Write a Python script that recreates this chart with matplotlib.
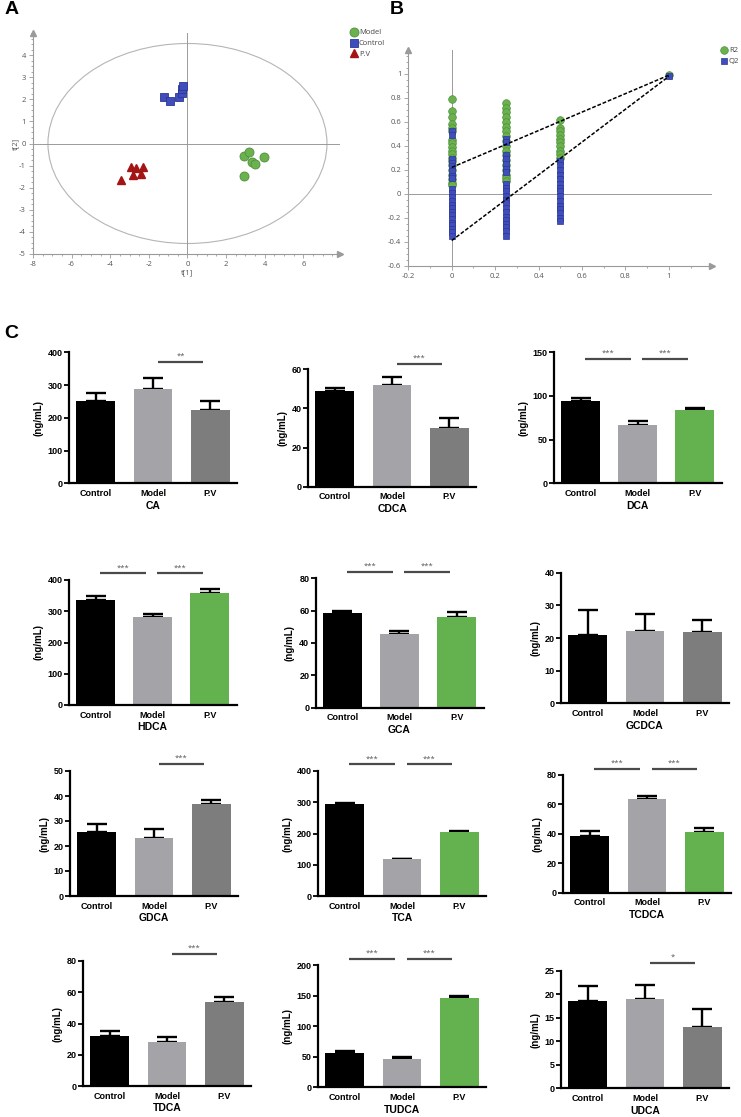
import numpy as np
import matplotlib.pyplot as plt
from matplotlib.patches import Ellipse
from matplotlib.ticker import MultipleLocator

W, H = 741, 1117

# --- A: PCA scores t[1], t[2]
model_t1 = [2.93, 3.17, 3.33, 3.49, 3.97, 2.92]
model_t2 = [-0.55, -0.40, -0.82, -0.91, -0.61, -1.46]
control_t1 = [-1.20, -0.89, -0.44, -0.30, -0.26, -0.24]
control_t2 = [2.12, 1.92, 2.09, 2.27, 2.45, 2.60]
pv_t1 = [-2.92, -2.68, -2.28, -3.44, -2.84, -2.42]
pv_t2 = [-1.05, -1.10, -1.05, -1.65, -1.43, -1.38]
ellipse_w, ellipse_h = 14.45, 9.05

# --- B: permutation test (R2 / Q2)
r2_x0 = [0.79, 0.69, 0.64, 0.58, 0.55, 0.52, 0.45, 0.42, 0.39, 0.36, 0.33,
         0.30, 0.27, 0.24, 0.20, 0.16, 0.12, 0.09, 0.07]
q2_x0 = [0.52, 0.49, 0.29, 0.26, 0.23, 0.19, 0.15, 0.13, 0.04, 0.01, -0.03,
         -0.06, -0.09, -0.12, -0.15, -0.18, -0.21, -0.24, -0.26, -0.29, -0.32, -0.35]
r2_x25 = [0.76, 0.72, 0.68, 0.64, 0.60, 0.56, 0.52, 0.48, 0.44, 0.40, 0.36,
          0.32, 0.28, 0.24, 0.20, 0.16, 0.13, 0.11]
q2_x25 = [0.46, 0.43, 0.32, 0.29, 0.25, 0.21, 0.18, 0.08, 0.05, 0.02, -0.02,
          -0.05, -0.08, -0.12, -0.15, -0.19, -0.22, -0.25, -0.28, -0.31, -0.35]
r2_x50 = [0.62, 0.55, 0.52, 0.49, 0.46, 0.43, 0.40, 0.36, 0.33, 0.30]
q2_x50 = [0.27, 0.24, 0.20, 0.16, 0.12, 0.08, 0.05, 0.02, -0.02, -0.06, -0.10,
          -0.13, -0.16, -0.20, -0.23]
r2_orig, q2_orig = 0.99, 0.98
r2_icpt, q2_icpt = 0.22, -0.39

# --- C: bile acids (ng/mL), mean and upper error
groups = ['Control', 'Model', 'P.V']
CA_mean, CA_err = [250, 288, 225], [26, 35, 26]
CDCA_mean, CDCA_err = [48.8, 52.2, 29.8], [1.8, 4.0, 5.5]
DCA_mean, DCA_err = [94, 66.5, 83.5], [3.3, 5.0, 3.0]
HDCA_mean, HDCA_err = [337, 281, 357], [12, 11, 13]
GCA_mean, GCA_err = [58.5, 45.3, 56.0], [1.3, 2.0, 3.0]
GCDCA_mean, GCDCA_err = [21.0, 22.0, 21.8], [7.7, 5.4, 3.7]
GDCA_mean, GDCA_err = [25.8, 23.3, 36.8], [3.2, 3.4, 1.7]
TCA_mean, TCA_err = [295, 118, 205], [3, 2, 3]
TCDCA_mean, TCDCA_err = [38.5, 63.5, 41.0], [3.5, 2.5, 3.0]
TDCA_mean, TDCA_err = [32.3, 28.0, 53.5], [3.2, 3.5, 3.5]
TUDCA_mean, TUDCA_err = [57, 47, 147], [2.0, 2.0, 2.5]
UDCA_mean, UDCA_err = [18.6, 19.0, 13.1], [3.1, 3.0, 3.7]

acids = ['CA', 'CDCA', 'DCA', 'HDCA', 'GCA', 'GCDCA',
         'GDCA', 'TCA', 'TCDCA', 'TDCA', 'TUDCA', 'UDCA']
means = [CA_mean, CDCA_mean, DCA_mean, HDCA_mean, GCA_mean, GCDCA_mean,
         GDCA_mean, TCA_mean, TCDCA_mean, TDCA_mean, TUDCA_mean, UDCA_mean]
errs = [CA_err, CDCA_err, DCA_err, HDCA_err, GCA_err, GCDCA_err,
        GDCA_err, TCA_err, TCDCA_err, TDCA_err, TUDCA_err, UDCA_err]
y_max = [400, 60, 150, 400, 80, 40, 50, 400, 80, 80, 200, 25]
y_step = [100, 20, 50, 100, 20, 10, 10, 100, 20, 20, 50, 5]
pv_green = [False, False, True, True, True, False,
            False, True, True, False, True, False]
sig_pairs = [[(1, 2, '**')], [(1, 2, '***')], [(0, 1, '***'), (1, 2, '***')],
             [(0, 1, '***'), (1, 2, '***')], [(0, 1, '***'), (1, 2, '***')], [],
             [(1, 2, '***')], [(0, 1, '***'), (1, 2, '***')], [(0, 1, '***'), (1, 2, '***')],
             [(1, 2, '***')], [(0, 1, '***'), (1, 2, '***')], [(1, 2, '*')]]
sig_level = [370, 62.7, 142, 421, 83.7, 0, 52.7, 421, 84.3, 84.3, 210, 26.6]

# axes boxes in pixels: left, top (y max), bottom (y = 0)
boxes = [(69, 352.3, 483.3), (308, 369.3, 486.7), (553.7, 352.3, 483.3),
         (68.7, 580, 705), (315.5, 578.3, 707.7), (561, 572.7, 703.3),
         (70, 771, 896), (318, 771, 896), (563, 775, 892.7),
         (83, 961, 1086), (318, 965.3, 1087.3), (561, 970.7, 1088.3)]
box_w = 168

simca_font = ['Open Sans', 'DejaVu Sans']
prism_font = ['Liberation Sans Narrow', 'Liberation Sans', 'DejaVu Sans']
plt.rcParams['font.family'] = simca_font

fig = plt.figure(figsize=(W / 100, H / 100), dpi=100)


def px_axes(left, top, right, bottom):
    return fig.add_axes([left / W, 1 - bottom / H, (right - left) / W, (bottom - top) / H])


grey = '#9a9a9a'
green, green_e = '#6bb24f', '#4e8f3a'
blue, blue_e = '#3f4dbd', '#2c3794'
red = '#a31515'


def simca_style(ax, xt, yt, xminor, yminor):
    for s in ['top', 'right']:
        ax.spines[s].set_visible(False)
    for s in ['left', 'bottom']:
        ax.spines[s].set_color(grey)
        ax.spines[s].set_linewidth(0.8)
    ax.set_xticks(xt, labels=[f'{v:g}' for v in np.round(xt, 2)], fontsize=5.5, color='#555555')
    ax.set_yticks(yt, labels=[f'{v:g}' for v in np.round(yt, 2)], fontsize=5.5, color='#555555')
    ax.xaxis.set_minor_locator(MultipleLocator(xminor))
    ax.yaxis.set_minor_locator(MultipleLocator(yminor))
    ax.tick_params(which='both', colors=grey, labelcolor='#555555', width=0.6)
    ax.tick_params(which='major', length=3, pad=2)
    ax.tick_params(which='minor', length=1.5)
    ax.plot(1, 0, '>', transform=ax.transAxes, clip_on=False, color=grey, ms=4)
    ax.plot(0, 1, '^', transform=ax.transAxes, clip_on=False, color=grey, ms=4)


# ---------------- A
axA = px_axes(33, 33, 340, 254)
axA.set_xlim(-8, 7.9)
axA.set_ylim(-5, 5)
simca_style(axA, np.arange(-8, 7, 2), np.arange(-5, 5, 1), 0.5, 0.25)
axA.axhline(0, color=grey, lw=0.7)
axA.axvline(0, color=grey, lw=0.7)
axA.add_patch(Ellipse((0, 0), ellipse_w, ellipse_h, fill=False, ec='#b5b5b5', lw=0.8))
hm, = axA.plot(model_t1, model_t2, 'o', ms=6.5, color=green, mec=green_e, mew=0.6, ls='none')
hc, = axA.plot(control_t1, control_t2, 's', ms=5.5, color=blue, mec=blue_e, mew=0.6, ls='none')
hp, = axA.plot(pv_t1, pv_t2, '^', ms=5.5, color=red, mec=red, ls='none')
axA.set_xlabel('t[1]', fontsize=5.5, color='#555555', labelpad=1)
axA.set_ylabel('t[2]', fontsize=5.5, color='#555555', labelpad=0)
fig.legend([hm, hc, hp], ['Model', 'Control', 'P.V'], loc='upper left',
           bbox_to_anchor=(346 / W, 1 - 26 / H), frameon=False, fontsize=5.5,
           labelcolor='#444444', handletextpad=0.1, labelspacing=0.45,
           handlelength=1.2, borderaxespad=0)

# ---------------- B
axB = px_axes(408.3, 50, 711.7, 265.7)
axB.set_xlim(-0.2, 1.197)
axB.set_ylim(-0.6, 1.2)
simca_style(axB, np.arange(-0.2, 1.01, 0.2), np.arange(-0.6, 1.01, 0.2), 0.1, 0.05)
axB.axhline(0, color=grey, lw=0.7)
axB.axvline(0, color=grey, lw=0.7)
for xpos, r2, q2 in [(0, r2_x0, q2_x0), (0.25, r2_x25, q2_x25), (0.5, r2_x50, q2_x50)]:
    axB.plot([xpos] * len(r2), r2, 'o', ms=5.5, color=green, mec=green_e, mew=0.5, ls='none')
    axB.plot([xpos] * len(q2), q2, 's', ms=4.8, color=blue, mec=blue_e, mew=0.5, ls='none')
hr, = axB.plot([1], [r2_orig], 'o', ms=5.5, color=green, mec=green_e, mew=0.5, ls='none')
hq, = axB.plot([1], [q2_orig], 's', ms=4.8, color=blue, mec=blue_e, mew=0.5, ls='none')
axB.plot([0, 1], [r2_icpt, r2_orig], color='black', lw=1.1, ls=(0, (2.5, 1.2)))
axB.plot([0, 1], [q2_icpt, q2_orig], color='black', lw=1.1, ls=(0, (2.5, 1.2)))
fig.legend([hr, hq], ['R2', 'Q2'], loc='upper left',
           bbox_to_anchor=(716 / W, 1 - 44 / H), frameon=False, fontsize=5.5,
           labelcolor='#444444', handletextpad=0.1, labelspacing=0.45,
           handlelength=1.2, borderaxespad=0)

# ---------------- C
for k, name in enumerate(acids):
    left, top, bottom = boxes[k]
    ax = px_axes(left, top, left + box_w, bottom)
    x = np.arange(3)
    colors = ['#000000', '#a3a3a8', '#63b14f' if pv_green[k] else '#7d7d7d']
    ax.bar(x, means[k], width=0.68, color=colors, zorder=2)
    ax.errorbar(x, means[k], yerr=[np.zeros(3), errs[k]], fmt='none', ecolor='black',
                elinewidth=1.7, capsize=7, capthick=1.7, zorder=1)
    ax.set_xlim(-0.47, 2.47)
    ax.set_ylim(0, y_max[k])
    for s in ['top', 'right']:
        ax.spines[s].set_visible(False)
    for s in ['left', 'bottom']:
        ax.spines[s].set_linewidth(1.6)
    yt = np.arange(0, y_max[k] + y_step[k] / 2, y_step[k])
    ax.set_yticks(yt, labels=[f'{v:g}' for v in yt], fontfamily=prism_font,
                  fontweight='bold', fontsize=6.5)
    ax.set_xticks(x, labels=groups, fontfamily=prism_font, fontweight='bold', fontsize=6.5)
    ax.tick_params(axis='x', length=0, pad=4)
    ax.tick_params(axis='y', length=3.5, width=1.3, pad=1)
    ax.set_ylabel('(ng/mL)', fontfamily=prism_font, fontweight='bold', fontsize=7, labelpad=3)
    ax.set_xlabel(name, fontfamily=prism_font, fontweight='bold', fontsize=7.5, labelpad=2)
    for i, j, stars in sig_pairs[k]:
        ax.plot([i + 0.08, j - 0.12], [sig_level[k]] * 2, color='#4a4a4a', lw=1.6,
                clip_on=False, solid_capstyle='butt')
        ax.annotate(stars, xy=((i + j) / 2 - 0.02, sig_level[k]), xytext=(0, 1.5),
                    textcoords='offset points', ha='center', va='bottom',
                    fontsize=5.5, color='#555555', annotation_clip=False)

# panel letters
for lab, xp, yp in [('A', 5, 14), ('B', 390, 14), ('C', 4, 338)]:
    fig.text(xp / W, 1 - yp / H, lab, fontsize=14, fontweight='bold',
             fontfamily=['Liberation Sans', 'DejaVu Sans'], va='baseline')

fig.savefig('out.png', dpi=100)
